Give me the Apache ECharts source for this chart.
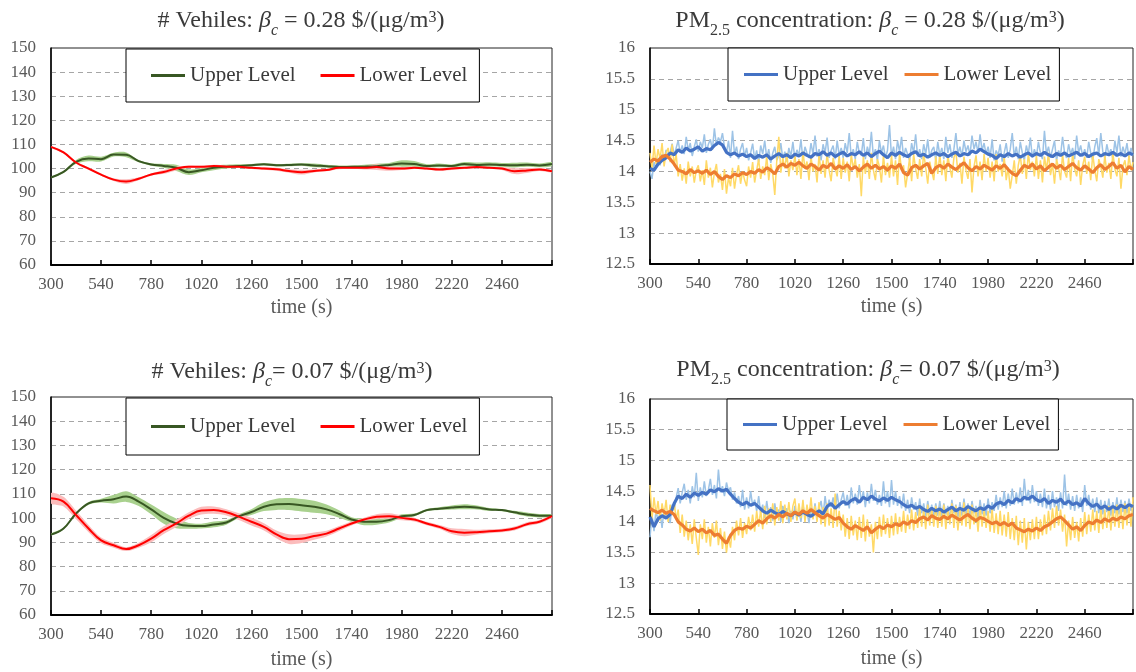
<!DOCTYPE html>
<html><head><meta charset="utf-8">
<script src="https://cdn.jsdelivr.net/npm/echarts@6/dist/echarts.min.js"></script>
<style>html,body{margin:0;padding:0;background:#fff}#c{width:1136px;height:672px}</style>
</head><body><div id="c"></div>
<script>
// ---------- time grids (sampling instants, s) ----------
const T60 = []; for (let t = 300; t <= 2700; t += 60) T60.push(t);
const T20 = []; for (let t = 300; t <= 2700; t += 20) T20.push(t);
const T10 = []; for (let t = 300; t <= 2700; t += 10) T10.push(t);
const X_TICKS = {min: 300, max: 2700, step: 240};

// ---------- # vehicles, beta_c = 0.28 (every 60 s) ----------
const veh028Upper = [
  96.3, 98.6, 102.8, 104.2, 103.9, 105.8, 105.7, 103.1, 101.7, 101.1,
  100.3, 98.5, 99.3, 100.3, 100.8, 101.1, 101.4, 101.8, 101.4, 101.5,
  101.7, 101.3, 101.0, 100.6, 100.7, 100.8, 101.0, 101.5, 102.1, 101.9,
  101.1, 101.3, 101.1, 101.9, 101.5, 101.7, 101.5, 101.4, 101.6, 101.3,
  101.9];
const veh028UpperSpread = [
  0.3, 0.4, 0.8, 1.2, 1.0, 0.8, 1.0, 0.5, 0.5, 0.8,
  1.3, 1.2, 0.8, 1.0, 0.8, 0.7, 0.5, 0.5, 0.5, 0.5,
  0.5, 0.8, 0.6, 0.7, 0.6, 0.8, 1.0, 0.8, 1.3, 1.2,
  0.7, 0.8, 0.6, 0.8, 1.0, 0.9, 0.8, 1.0, 0.9, 0.8,
  0.8];
const veh028Lower = [
  109.0, 106.7, 102.5, 100.0, 97.5, 95.4, 94.6, 95.8, 97.5, 98.6,
  100.0, 100.8, 100.7, 101.1, 100.8, 100.7, 100.3, 100.0, 99.7, 99.0,
  98.5, 99.0, 99.4, 100.3, 100.3, 100.3, 100.6, 100.0, 100.0, 100.3,
  100.0, 99.6, 100.0, 100.3, 100.6, 100.3, 100.0, 98.9, 99.2, 99.6,
  98.9];
const veh028LowerSpread = [
  0.4, 0.4, 0.5, 0.5, 0.5, 0.6, 1.0, 0.6, 0.5, 0.8,
  0.8, 0.5, 0.5, 0.5, 0.5, 0.4, 0.5, 0.5, 0.6, 0.7,
  1.0, 0.6, 0.5, 0.6, 0.5, 0.7, 1.2, 0.9, 0.6, 0.5,
  0.5, 0.5, 0.6, 0.5, 0.6, 0.5, 0.6, 1.2, 1.0, 0.6,
  0.5];

// ---------- # vehicles, beta_c = 0.07 (every 60 s) ----------
const veh007Upper = [
  93.2, 95.7, 101.9, 106.1, 107.2, 107.8, 108.9, 106.8, 103.6, 100.1,
  97.8, 96.8, 96.7, 97.4, 98.2, 100.8, 102.5, 104.7, 105.7, 105.8,
  105.3, 104.7, 103.6, 101.7, 99.4, 98.5, 98.5, 99.2, 100.8, 101.3,
  103.3, 103.9, 104.4, 104.7, 104.4, 103.6, 103.3, 102.4, 101.5, 101.0,
  101.0];
const veh007UpperSpread = [
  0.4, 0.4, 0.5, 0.6, 0.8, 1.8, 2.2, 1.8, 2.0, 2.4,
  2.0, 1.2, 1.0, 1.2, 0.9, 0.8, 1.2, 1.8, 2.3, 2.5,
  2.6, 2.5, 2.0, 1.5, 1.0, 1.4, 1.2, 1.0, 0.8, 0.6,
  0.5, 0.6, 0.8, 1.0, 0.8, 0.6, 0.5, 0.6, 0.8, 0.7,
  0.5];
const veh007Lower = [
  108.2, 106.8, 101.3, 95.7, 90.8, 88.8, 87.2, 88.8, 91.5, 95.0,
  97.8, 101.0, 103.1, 103.3, 102.4, 100.6, 98.5, 96.4, 93.3, 91.3,
  91.5, 92.6, 93.6, 95.7, 97.8, 99.4, 100.6, 100.8, 100.1, 99.4,
  97.8, 96.4, 94.6, 94.0, 94.2, 94.6, 94.9, 95.7, 97.5, 98.5,
  100.8];
const veh007LowerSpread = [
  2.2, 2.0, 1.8, 1.5, 1.2, 1.0, 0.8, 1.0, 1.5, 1.6,
  1.5, 1.4, 1.6, 1.5, 1.3, 1.4, 1.6, 1.5, 1.6, 2.0,
  1.8, 1.5, 1.2, 1.0, 0.8, 0.8, 1.0, 1.2, 1.0, 0.8,
  0.7, 0.8, 1.2, 1.5, 1.0, 0.8, 0.7, 0.8, 0.8, 0.7,
  0.6];

// ---------- PM2.5, beta_c = 0.28 : smoothed (every 20 s) ----------
const pm028Upper = [
  14.05, 14.02, 14.12, 14.18, 14.22, 14.30, 14.27, 14.35, 14.31, 14.38, 14.33, 14.36,
  14.40, 14.33, 14.37, 14.35, 14.42, 14.47, 14.43, 14.31, 14.27, 14.30, 14.25, 14.28,
  14.24, 14.27, 14.21, 14.26, 14.23, 14.27, 14.20, 14.25, 14.29, 14.24, 14.27, 14.22,
  14.28, 14.25, 14.30, 14.26, 14.23, 14.29, 14.27, 14.32, 14.26, 14.30, 14.24, 14.28,
  14.31, 14.25, 14.29, 14.27, 14.32, 14.26, 14.30, 14.24, 14.29, 14.33, 14.27, 14.22,
  14.30, 14.26, 14.31, 14.27, 14.24, 14.29, 14.32, 14.25, 14.28, 14.23, 14.27, 14.30,
  14.26, 14.29, 14.24, 14.28, 14.31, 14.25, 14.29, 14.27, 14.33, 14.30, 14.36, 14.32,
  14.28, 14.26, 14.21, 14.27, 14.24, 14.29, 14.25, 14.28, 14.23, 14.27, 14.30, 14.25,
  14.29, 14.26, 14.31, 14.27, 14.24, 14.29, 14.26, 14.30, 14.25, 14.28, 14.31, 14.26,
  14.29, 14.24, 14.28, 14.30, 14.25, 14.29, 14.27, 14.31, 14.26, 14.29, 14.25, 14.30,
  14.27];
const pm028Lower = [
  14.15, 14.20, 14.17, 14.24, 14.26, 14.20, 14.12, 14.02, 14.00, 13.96, 14.03, 13.98,
  14.01, 13.97, 14.02, 13.95, 14.00, 13.92, 13.87, 13.93, 13.90, 13.96, 13.93, 13.98,
  13.95, 14.00, 13.97, 14.03, 13.99, 14.06, 14.02, 13.96, 14.08, 14.12, 14.07, 14.13,
  14.10, 14.15, 14.09, 14.05, 14.12, 14.08, 14.02, 14.10, 14.06, 14.13, 14.04, 14.09,
  14.05, 14.11, 14.03, 14.08, 14.01, 14.07, 14.12, 14.05, 14.10, 14.04, 14.08, 14.02,
  14.09, 14.05, 14.12, 13.98, 13.94, 14.06, 14.10, 14.04, 14.09, 14.13, 13.97, 14.06,
  14.10, 14.05, 14.12, 14.07, 14.03, 14.09, 14.14, 14.06, 14.01, 14.08, 14.04, 14.10,
  14.06, 14.02, 14.09, 14.05, 14.11, 14.03, 13.97, 13.93, 14.02, 14.10, 14.06, 14.12,
  14.04, 14.09, 14.01, 14.07, 14.12, 14.05, 14.10, 14.03, 14.08, 14.13, 14.06, 14.02,
  14.09, 14.04, 13.98, 14.06, 14.11, 14.03, 14.08, 14.14, 14.05, 14.10, 13.99, 14.08,
  14.03];
// ---------- PM2.5, beta_c = 0.28 : raw (every 10 s) ----------
const pm028UpperRaw = [
  14.00, 13.88, 14.15, 14.05, 14.22, 14.10, 14.28, 14.18, 14.35, 14.22, 14.30, 14.45, 14.26, 14.38, 14.50, 14.30, 14.42, 14.28, 14.56, 14.34, 14.46, 14.25, 14.40, 14.52,
  14.32, 14.48, 14.38, 14.60, 14.30, 14.44, 14.52, 14.35, 14.70, 14.42, 14.55, 14.48, 14.62, 14.40, 14.30, 14.50, 14.22, 14.66, 14.28, 14.40, 14.20, 14.36, 14.46, 14.24,
  14.38, 14.18, 14.30, 14.45, 14.20, 14.34, 14.15, 14.42, 14.28, 14.50, 14.22, 14.36, 14.14, 14.30, 14.40, 14.18, 14.26, 14.46, 14.20, 14.32, 14.16, 14.38, 14.24, 14.48,
  14.20, 14.35, 14.26, 14.52, 14.18, 14.40, 14.30, 14.22, 14.46, 14.28, 14.58, 14.24, 14.36, 14.18, 14.44, 14.30, 14.55, 14.22, 14.34, 14.42, 14.20, 14.50, 14.26, 14.38,
  14.22, 14.46, 14.30, 14.62, 14.24, 14.36, 14.20, 14.48, 14.30, 14.26, 14.54, 14.20, 14.40, 14.28, 14.64, 14.24, 14.36, 14.18, 14.50, 14.30, 14.42, 14.22, 14.34, 14.75,
  14.24, 14.40, 14.20, 14.50, 14.32, 14.56, 14.22, 14.38, 14.28, 14.18, 14.46, 14.30, 14.60, 14.24, 14.36, 14.20, 14.44, 14.28, 14.52, 14.22, 14.34, 14.40, 14.18, 14.48,
  14.26, 14.38, 14.20, 14.56, 14.30, 14.44, 14.22, 14.36, 14.62, 14.28, 14.40, 14.24, 14.50, 14.32, 14.42, 14.26, 14.58, 14.36, 14.48, 14.30, 14.60, 14.34, 14.46, 14.28,
  14.40, 14.22, 14.52, 14.18, 14.34, 14.26, 14.44, 14.16, 14.30, 14.46, 14.22, 14.36, 14.62, 14.24, 14.40, 14.20, 14.48, 14.30, 14.18, 14.42, 14.28, 14.55, 14.22, 14.36,
  14.24, 14.48, 14.30, 14.20, 14.66, 14.28, 14.40, 14.22, 14.36, 14.50, 14.18, 14.34, 14.26, 14.56, 14.30, 14.22, 14.44, 14.28, 14.38, 14.20, 14.58, 14.30, 14.42, 14.24,
  14.36, 14.22, 14.48, 14.30, 14.18, 14.40, 14.54, 14.26, 14.62, 14.32, 14.22, 14.44, 14.28, 14.36, 14.20, 14.50, 14.30, 14.58, 14.24, 14.40, 14.28, 14.46, 14.22, 14.38,
  14.26];
const pm028LowerRaw = [
  14.30, 14.05, 14.42, 14.12, 14.36, 14.20, 14.46, 14.08, 14.30, 14.38, 14.15, 14.44, 14.10, 14.28, 13.92, 14.12, 13.85, 14.05, 13.80, 14.16, 13.92, 14.08, 13.82, 14.02,
  14.10, 13.84, 14.02, 13.78, 14.18, 13.90, 14.06, 13.74, 13.98, 14.12, 13.82, 13.96, 13.70, 14.04, 13.64, 13.90, 13.76, 14.06, 13.72, 13.95, 14.10, 13.80, 14.00, 13.86,
  13.76, 14.08, 13.90, 14.15, 13.82, 14.02, 14.20, 13.88, 14.08, 13.94, 14.25, 13.86, 14.12, 13.96, 13.62, 14.18, 14.56, 13.98, 14.22, 14.05, 14.30, 13.92, 14.18, 14.02,
  14.26, 13.94, 14.20, 13.88, 14.32, 14.04, 14.16, 13.86, 14.24, 14.00, 14.12, 13.82, 14.28, 13.96, 14.18, 13.90, 14.30, 14.02, 13.84, 14.22, 14.06, 13.92, 14.26, 13.88,
  14.22, 13.98, 14.16, 13.84, 14.28, 14.04, 14.20, 13.90, 14.12, 13.60, 14.24, 13.96, 14.18, 13.88, 14.30, 14.02, 13.86, 14.20, 14.08, 13.82, 14.26, 13.94, 14.14, 13.90,
  14.26, 13.92, 14.18, 13.78, 14.30, 14.02, 14.10, 13.74, 13.96, 14.22, 13.84, 14.28, 14.04, 13.88, 14.20, 13.92, 14.30, 14.06, 13.80, 14.16, 14.00, 13.86, 14.24, 13.96,
  14.28, 13.94, 14.18, 13.84, 14.26, 14.06, 13.90, 14.22, 14.32, 13.98, 14.14, 13.80, 14.24, 14.02, 13.88, 14.20, 13.66, 14.08, 14.26, 13.92, 14.16, 13.86, 14.28, 14.00,
  14.22, 13.90, 14.16, 13.84, 14.28, 14.00, 14.12, 13.92, 14.24, 13.86, 14.06, 13.72, 13.94, 14.18, 13.80, 14.10, 14.26, 13.96, 14.20, 13.88, 14.30, 14.02, 14.16, 13.92,
  14.26, 13.88, 14.18, 13.82, 14.24, 14.02, 14.30, 13.94, 14.12, 13.80, 14.20, 14.06, 13.86, 14.28, 14.00, 13.90, 14.22, 13.84, 14.30, 14.04, 13.92, 14.18, 13.78, 14.10,
  14.24, 13.96, 14.16, 13.86, 14.28, 14.02, 13.84, 14.20, 14.08, 13.90, 14.26, 13.98, 14.14, 13.88, 14.30, 14.04, 13.92, 14.22, 13.72, 14.08, 14.18, 13.94, 14.26, 14.02,
  14.15];

// ---------- PM2.5, beta_c = 0.07 : smoothed (every 20 s) ----------
const pm007Upper = [
  14.08, 13.92, 14.05, 14.10, 14.06, 14.12, 14.30, 14.42, 14.38, 14.45, 14.40, 14.47,
  14.43, 14.48, 14.45, 14.52, 14.49, 14.54, 14.50, 14.53, 14.45, 14.38, 14.32, 14.28,
  14.32, 14.27, 14.30, 14.24, 14.18, 14.14, 14.19, 14.15, 14.12, 14.17, 14.13, 14.10,
  14.15, 14.11, 14.16, 14.12, 14.09, 14.14, 14.18, 14.13, 14.25, 14.30, 14.22, 14.28,
  14.33, 14.29, 14.35, 14.38, 14.32, 14.40, 14.36, 14.42, 14.37, 14.34, 14.39, 14.35,
  14.40, 14.36, 14.33, 14.28, 14.24, 14.27, 14.22, 14.25, 14.20, 14.17, 14.22, 14.18,
  14.21, 14.16, 14.20, 14.24, 14.18, 14.22, 14.19, 14.25, 14.21, 14.18, 14.23, 14.20,
  14.26, 14.22, 14.29, 14.32, 14.28, 14.35, 14.31, 14.38, 14.34, 14.40, 14.37, 14.42,
  14.36, 14.33, 14.38, 14.30, 14.35, 14.32, 14.37, 14.29, 14.34, 14.28, 14.31, 14.26,
  14.38, 14.30, 14.25, 14.29, 14.22, 14.26, 14.20, 14.25, 14.21, 14.27, 14.23, 14.28,
  14.25];
const pm007Lower = [
  14.22, 14.18, 14.15, 14.19, 14.14, 14.17, 14.12, 14.00, 13.95, 13.88, 13.85, 13.90,
  13.84, 13.88, 13.82, 13.86, 13.78, 13.80, 13.72, 13.65, 13.78, 13.86, 13.90, 13.88,
  13.93, 13.90, 13.96, 14.02, 13.98, 14.05, 14.10, 14.06, 14.12, 14.08, 14.14, 14.10,
  14.16, 14.12, 14.18, 14.14, 14.20, 14.15, 14.10, 14.06, 14.12, 14.08, 14.04, 14.07,
  13.98, 13.92, 13.88, 13.94, 13.90, 13.86, 13.92, 13.82, 13.88, 13.93, 13.89, 13.95,
  13.92, 13.97, 13.94, 14.00, 13.96, 14.02, 13.99, 14.05, 14.08, 14.03, 14.10, 14.06,
  14.04, 14.09, 14.05, 14.11, 14.07, 14.03, 14.08, 14.12, 14.06, 14.02, 14.07, 14.05,
  14.01, 13.97, 14.00, 13.95, 13.99, 13.94, 13.98, 13.90, 13.87, 13.84, 13.88, 13.85,
  13.90, 13.86, 13.92, 13.95, 14.00, 14.05, 14.08, 14.02, 13.95, 13.88, 13.92, 13.86,
  13.94, 14.00, 13.97, 14.03, 13.99, 14.05, 14.01, 14.06, 14.03, 14.08, 14.05, 14.10,
  14.12];
// ---------- PM2.5, beta_c = 0.07 : raw (every 10 s) ----------
const pm007UpperRaw = [
  13.75, 14.12, 13.85, 14.20, 14.00, 14.15, 13.90, 14.22, 14.05, 14.18, 13.98, 14.28, 14.20, 14.40, 14.55, 14.30, 14.48, 14.62, 14.36, 14.52, 14.30, 14.58, 14.40, 14.80,
  14.34, 14.56, 14.40, 14.66, 14.42, 14.52, 14.70, 14.44, 14.60, 14.38, 14.85, 14.48, 14.58, 14.42, 14.64, 14.50, 14.56, 14.36, 14.48, 14.30, 14.42, 14.24, 14.52, 14.20,
  14.40, 14.22, 14.50, 14.26, 14.36, 14.18, 14.42, 14.14, 14.28, 14.06, 14.34, 14.10, 14.24, 14.02, 14.30, 14.08, 14.20, 14.00, 14.26, 14.12, 14.22, 13.98, 14.18, 14.04,
  14.26, 14.04, 14.20, 14.00, 14.28, 14.08, 14.18, 13.98, 14.24, 14.06, 14.30, 14.04, 14.22, 14.34, 14.10, 14.42, 14.18, 14.36, 14.24, 14.40, 14.20, 14.46, 14.22, 14.36,
  14.48, 14.26, 14.44, 14.22, 14.56, 14.30, 14.46, 14.28, 14.60, 14.32, 14.50, 14.24, 14.48, 14.30, 14.62, 14.34, 14.52, 14.28, 14.44, 14.26, 14.66, 14.30, 14.50, 14.24,
  14.68, 14.28, 14.50, 14.26, 14.42, 14.22, 14.46, 14.18, 14.36, 14.14, 14.40, 14.20, 14.32, 14.10, 14.38, 14.14, 14.30, 14.08, 14.34, 14.12, 14.28, 14.06, 14.30, 14.10,
  14.34, 14.08, 14.30, 14.12, 14.26, 14.04, 14.36, 14.14, 14.28, 14.06, 14.32, 14.10, 14.38, 14.12, 14.30, 14.08, 14.34, 14.14, 14.26, 14.04, 14.36, 14.12, 14.30, 14.10,
  14.38, 14.14, 14.32, 14.18, 14.44, 14.20, 14.40, 14.24, 14.50, 14.22, 14.46, 14.26, 14.54, 14.28, 14.48, 14.30, 14.56, 14.26, 14.70, 14.34, 14.52, 14.30, 14.60, 14.32,
  14.50, 14.26, 14.46, 14.24, 14.54, 14.22, 14.44, 14.20, 14.50, 14.24, 14.40, 14.18, 14.48, 14.22, 14.77, 14.26, 14.46, 14.20, 14.42, 14.18, 14.44, 14.22, 14.40, 14.16,
  14.60, 14.26, 14.44, 14.20, 14.38, 14.16, 14.40, 14.14, 14.36, 14.12, 14.34, 14.16, 14.38, 14.10, 14.32, 14.14, 14.40, 14.12, 14.36, 14.16, 14.34, 14.14, 14.38, 14.18,
  14.30];
const pm007LowerRaw = [
  14.60, 14.05, 14.40, 14.12, 14.34, 14.02, 14.30, 14.10, 14.36, 14.00, 14.28, 14.14, 14.32, 14.04, 14.20, 13.82, 14.12, 13.76, 14.02, 13.70, 13.96, 13.64, 14.04, 13.74,
  13.46, 13.96, 13.72, 14.04, 13.66, 13.92, 13.60, 13.98, 13.74, 14.02, 13.62, 13.90, 13.56, 13.84, 13.50, 13.76, 13.58, 13.92, 13.70, 14.02, 13.78, 14.06, 13.74, 13.98,
  13.80, 14.08, 13.86, 14.12, 13.84, 14.18, 13.92, 14.20, 13.88, 14.26, 13.96, 14.22, 14.00, 14.30, 13.94, 14.24, 14.02, 14.34, 13.98, 14.28, 14.04, 14.32, 14.00, 14.26,
  14.38, 14.02, 14.30, 14.06, 14.36, 14.00, 14.28, 14.08, 14.40, 14.04, 14.26, 14.00, 14.32, 13.96, 14.24, 13.92, 14.30, 13.94, 14.22, 13.90, 14.46, 13.92, 14.18, 13.86,
  14.12, 13.76, 14.06, 13.72, 14.10, 13.78, 14.02, 13.70, 14.08, 13.74, 14.12, 13.68, 14.04, 13.76, 13.96, 13.50, 14.00, 13.72, 14.08, 13.76, 14.12, 13.80, 14.06, 13.74,
  14.10, 13.78, 14.14, 13.80, 14.08, 13.84, 14.18, 13.82, 14.12, 13.88, 14.20, 13.86, 14.16, 13.90, 14.24, 13.92, 14.20, 13.88, 14.28, 13.94, 14.22, 13.92, 14.26, 13.90,
  14.24, 13.92, 14.28, 13.88, 14.22, 13.96, 14.30, 13.90, 14.26, 13.86, 14.20, 13.94, 14.32, 13.92, 14.24, 13.88, 14.28, 13.96, 14.22, 13.84, 14.26, 13.92, 14.20, 13.90,
  14.18, 13.84, 14.22, 13.82, 14.14, 13.80, 14.18, 13.78, 14.12, 13.76, 14.16, 13.72, 14.06, 13.70, 14.10, 13.62, 14.02, 13.66, 14.06, 13.55, 14.00, 13.70, 14.04, 13.72,
  14.08, 13.72, 14.04, 13.78, 14.12, 13.80, 14.18, 13.86, 14.22, 13.90, 14.26, 13.94, 14.20, 13.84, 14.12, 13.60, 14.02, 13.70, 14.08, 13.74, 14.00, 13.68, 14.06, 13.76,
  14.16, 13.80, 14.12, 13.84, 14.20, 13.86, 14.18, 13.82, 14.24, 13.88, 14.20, 13.90, 14.26, 13.86, 14.22, 13.92, 14.28, 13.90, 14.24, 13.88, 14.30, 13.94, 14.26, 13.92,
  14.40];

// ---------- text ----------
const LEGEND_NAMES = ['Upper Level', 'Lower Level'];
const TITLES = [
  '# Vehiles: {i|β}{sub|c} = 0.28 $/(μg/m{sup|3})',
  'PM{sub2|2.5} concentration: {i|β}{sub|c} = 0.28 $/(μg/m{sup|3})',
  '# Vehiles: {i|β}{sub|c}= 0.07 $/(μg/m{sup|3})',
  'PM{sub2|2.5} concentration: {i|β}{sub|c}= 0.07 $/(μg/m{sup|3})'
];
const X_NAME = 'time (s)';

// ---------- build ----------
const F = 'Liberation Serif';
const TXT = '#3a3a3a', LBL = '#595959';
const C = {
  green: '#385723', lgreen: '#a9d18e', red: '#ff0000', pink: '#fbbcbc',
  blue: '#4472c4', lblue: '#9dc3e6', orange: '#ed7d31', yellow: '#ffd966'
};
const pairs = (T, V) => T.map((t, i) => [t, V[i]]);

const grids = [
  {left: 51, top: 48, width: 501, height: 217},
  {left: 650, top: 48, width: 484, height: 216},
  {left: 51, top: 397, width: 501, height: 218},
  {left: 650, top: 399, width: 483, height: 215}
].map(g => Object.assign(g, {show: true, borderColor: '#222', borderWidth: 1, backgroundColor: 'transparent'}));

const xAxes = [0, 1, 2, 3].map(i => ({
  gridIndex: i, type: 'value', min: X_TICKS.min, max: X_TICKS.max, interval: X_TICKS.step,
  axisLine: {onZero: false, lineStyle: {color: '#000', width: 2}},
  axisTick: {inside: true, length: 5, lineStyle: {color: '#000', width: 1.5}},
  axisLabel: {fontFamily: F, fontSize: 17, color: LBL, margin: 11,
    formatter: v => (v === X_TICKS.max ? '' : String(v))},
  splitLine: {show: false},
  name: X_NAME, nameLocation: 'middle', nameGap: i < 2 ? 33 : 35,
  nameTextStyle: {fontFamily: F, fontSize: 20, color: LBL}
}));

const yRange = [[60, 150, 10], [12.5, 16, 0.5], [60, 150, 10], [12.5, 16, 0.5]];
const yAxes = yRange.map((r, i) => ({
  gridIndex: i, type: 'value', min: r[0], max: r[1], interval: r[2],
  axisLine: {show: true, onZero: false, lineStyle: {color: '#000', width: 1.5}},
  axisTick: {show: false},
  axisLabel: {fontFamily: F, fontSize: 17, color: LBL, margin: 15},
  splitLine: {show: true, showMinLine: false, showMaxLine: false,
    lineStyle: {color: '#a6a6a6', type: [5, 4], width: 1.2}}
}));

const rich = {
  i: {fontFamily: F, fontSize: 24, fontStyle: 'italic', color: TXT, lineHeight: 35},
  sub: {fontFamily: F, fontSize: 16, fontStyle: 'italic', color: TXT, lineHeight: 16, verticalAlign: 'bottom'},
  sub2: {fontFamily: F, fontSize: 16, color: TXT, lineHeight: 16, verticalAlign: 'bottom'},
  sup: {fontFamily: F, fontSize: 16, color: TXT, lineHeight: 16, verticalAlign: 'top', padding: [6, 0, 0, 0]}
};
const titlePos = [[301, 21], [870, 21], [292, 372], [868, 370]];
const titles = TITLES.map((t, i) => ({
  text: t, left: titlePos[i][0] - 5, top: titlePos[i][1] - 5,
  textAlign: 'center', textVerticalAlign: 'middle',
  textStyle: {fontFamily: F, fontSize: 24, fontWeight: 'normal', color: TXT, lineHeight: 35, rich}
}));

const legendBox = [
  {left: 126, top: 49, padding: [16, 12, 16, 25], itemGap: 25},
  {left: 728, top: 48, padding: [16, 8, 16, 16], itemGap: 16},
  {left: 126, top: 398, padding: [18, 12, 18, 25], itemGap: 25},
  {left: 727, top: 399, padding: [15, 8, 15, 16], itemGap: 16}
];
const legendColors = [[C.green, C.red], [C.blue, C.orange], [C.green, C.red], [C.blue, C.orange]];
const legends = legendBox.map((b, i) => Object.assign({}, b, {
  orient: 'horizontal', selectedMode: false,
  backgroundColor: '#fff', borderColor: '#000', borderWidth: 1,
  itemWidth: 34, itemHeight: 3, icon: 'rect',
  formatter: n => n.split('#')[0],
  textStyle: {fontFamily: F, fontSize: 21, color: TXT, lineHeight: 21},
  data: LEGEND_NAMES.map((n, k) => ({name: n + '#' + i, itemStyle: {color: legendColors[i][k]}}))
}));

const series = [];
// spread band drawn as one polygon through the axes' coordinate conversion
function band(gi, T, V, S, color) {
  series.push({type: 'custom', xAxisIndex: gi, yAxisIndex: gi, silent: true, z: 1, clip: true,
    data: [[T[0], V[0]]],
    renderItem: (params, api) => {
      const up = T.map((t, k) => api.coord([t, V[k] + S[k]]));
      const dn = T.map((t, k) => api.coord([t, V[k] - S[k]])).reverse();
      return {type: 'polygon', shape: {points: up.concat(dn), smooth: 0.3},
        style: {fill: color}, silent: true};
    }});
}
function line(gi, name, T, V, color, width, smooth, z) {
  series.push({type: 'line', name: name, xAxisIndex: gi, yAxisIndex: gi,
    data: pairs(T, V), symbol: 'none', smooth: smooth, silent: true,
    itemStyle: {color: color}, lineStyle: {color: color, width: width}, z: z});
}
// panel 1
band(0, T60, veh028Upper, veh028UpperSpread, C.lgreen);
band(0, T60, veh028Lower, veh028LowerSpread, C.pink);
line(0, 'Upper Level#0', T60, veh028Upper, C.green, 2, 0.4, 3);
line(0, 'Lower Level#0', T60, veh028Lower, C.red, 2, 0.4, 3);
// panel 2
line(1, 'u2raw', T10, pm028UpperRaw, C.lblue, 1.5, false, 2);
line(1, 'l2raw', T10, pm028LowerRaw, C.yellow, 1.5, false, 2);
line(1, 'Upper Level#1', T20, pm028Upper, C.blue, 3.2, false, 3);
line(1, 'Lower Level#1', T20, pm028Lower, C.orange, 3.2, false, 3);
// panel 3
band(2, T60, veh007Upper, veh007UpperSpread, C.lgreen);
band(2, T60, veh007Lower, veh007LowerSpread, C.pink);
line(2, 'Upper Level#2', T60, veh007Upper, C.green, 2, 0.4, 3);
line(2, 'Lower Level#2', T60, veh007Lower, C.red, 2, 0.4, 3);
// panel 4
line(3, 'u4raw', T10, pm007UpperRaw, C.lblue, 1.5, false, 2);
line(3, 'l4raw', T10, pm007LowerRaw, C.yellow, 1.5, false, 2);
line(3, 'Upper Level#3', T20, pm007Upper, C.blue, 3.2, false, 3);
line(3, 'Lower Level#3', T20, pm007Lower, C.orange, 3.2, false, 3);

const chart = echarts.init(document.getElementById('c'), null, {renderer: 'canvas'});
chart.setOption({
  animation: false, backgroundColor: '#fff',
  title: titles, legend: legends, grid: grids, xAxis: xAxes, yAxis: yAxes, series: series
});
</script></body></html>
